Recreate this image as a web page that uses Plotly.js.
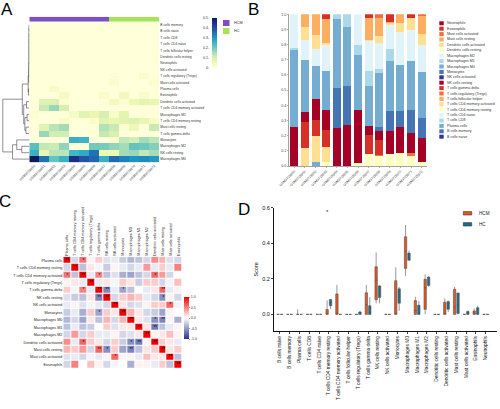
<!DOCTYPE html>
<html><head><meta charset="utf-8">
<script src="https://cdn.plot.ly/plotly-3.0.1.min.js"></script>
<style>html,body{margin:0;padding:0;background:#fff}#chart{width:500px;height:409px}</style>
</head><body><div id="chart"></div>
<script>
// ---------------- DATA ----------------
const samples = ['GSM3729960','GSM3729961','GSM3729962','GSM3729963','GSM3729964','GSM3729965','GSM3729966','GSM3729967','GSM3729968','GSM3729969','GSM3729970','GSM3729971','GSM3729972'];
const sampleGroups = ['HCM','HCM','HCM','HCM','HCM','HCM','HCM','HCM','HC','HC','HC','HC','HC'];
const groupNames = ['HCM','HC'];
const cellTypes = ['B cells naive','B cells memory','Plasma cells','T cells CD8','T cells CD4 naive','T cells CD4 memory resting','T cells CD4 memory activated','T cells follicular helper','T cells regulatory (Tregs)','T cells gamma delta','NK cells resting','NK cells activated','Monocytes','Macrophages M0','Macrophages M1','Macrophages M2','Dendritic cells resting','Dendritic cells activated','Mast cells resting','Mast cells activated','Eosinophils','Neutrophils'];
// fraction of each cell type in each sample (13 samples)
const bCellsNaive        = [0,0,0,0,0,0,0,0,0,0,0,0,0];
const bCellsMemory       = [0,0,0,0,0,0,0,0,0,0,0,0,0];
const plasmaCells        = [0,0,0.029,0,0,0,0,0,0,0,0,0,0];
const tCellsCD8          = [0,0,0,0,0,0,0,0,0,0,0,0,0];
const tCellsCD4Naive     = [0,0,0,0,0,0,0,0,0,0,0,0,0];
const tCellsCD4MemRest   = [0,0,0,0.029,0,0,0.022,0.079,0.068,0.079,0.088,0.068,0.029];
const tCellsCD4MemAct    = [0,0.121,0.166,0.099,0,0,0,0,0,0,0,0,0];
const tCellsFH           = [0,0,0,0,0,0,0,0,0,0,0,0,0];
const tCellsTregs        = [0,0,0,0,0,0,0,0,0.007,0,0,0.02,0];
const tCellsGammaDelta   = [0,0.166,0.11,0.11,0,0,0,0.126,0.097,0,0,0,0];
const nkResting          = [0.26,0.066,0.137,0.133,0.249,0.272,0.349,0.062,0.062,0.155,0.166,0.128,0.154];
const nkActivated        = [0,0,0,0,0,0,0,0,0,0,0,0,0];
const monocytes          = [0,0,0,0,0.265,0.253,0,0,0.02,0.13,0.106,0.155,0.133];
const macrophagesM0      = [0.504,0.349,0.216,0.258,0.453,0.393,0.364,0.263,0.36,0.331,0.309,0.32,0.302];
const macrophagesM1      = [0.011,0,0,0,0.033,0.082,0.066,0.099,0.026,0.077,0,0,0];
const macrophagesM2      = [0.225,0.128,0.115,0.172,0,0,0.199,0.194,0.172,0.155,0.216,0.205,0.183];
const dcResting          = [0,0,0,0,0,0,0,0,0,0,0,0,0];
const dcActivated        = [0,0.088,0.09,0.011,0,0,0,0.007,0.045,0.013,0.06,0.078,0.066];
const mastResting        = [0,0.082,0.137,0.155,0,0,0,0.143,0.121,0.011,0.055,0,0.121];
const mastActivated      = [0,0,0,0,0,0,0,0,0.022,0,0,0,0.011];
const eosinophils        = [0,0,0,0.033,0,0,0,0.026,0,0.049,0,0.026,0];
const neutrophils        = [0,0,0,0,0,0,0,0,0,0,0,0,0];

// Heatmap (A) row order as clustered
const heatmapRows = ['B cells memory','B cells naive','T cells CD8','T cells CD4 naive','T cells follicular helper','Dendritic cells resting','Neutrophils','NK cells activated','T cells regulatory (Tregs)','Mast cells activated','Plasma cells','Eosinophils','Dendritic cells activated','T cells CD4 memory activated','Macrophages M1','T cells CD4 memory resting','Mast cells resting','T cells gamma delta','Monocytes','Macrophages M2','NK cells resting','Macrophages M0'];
// row clustering: [childA, childB, height] (leaves 0..21, merged nodes 22..)
const rowLinkage = [[0,1,0.01],[22,2,0.01],[23,3,0.01],[24,4,0.01],[25,5,0.01],[26,6,0.01],[27,7,0.01],[28,8,0.02],[29,9,0.02],[10,11,0.03],[30,31,0.04],[12,13,0.1],[14,15,0.08],[16,17,0.12],[34,35,0.16],[33,36,0.2],[32,37,0.25],[19,20,0.27],[18,39,0.45],[40,21,0.6],[38,41,0.95]];

// Correlation (C)
const corrLabels = ['Plasma cells','T cells CD4 memory resting','T cells CD4 memory activated','T cells regulatory (Tregs)','T cells gamma delta','NK cells resting','NK cells activated','Monocytes','Macrophages M0','Macrophages M1','Macrophages M2','Dendritic cells activated','Mast cells resting','Mast cells activated','Eosinophils'];
// upper triangle rows (from diagonal to the right)
const corrUpper = [
 [1,-0.2,0.55,0.05,0.2,-0.15,-0.1,-0.25,-0.35,-0.3,-0.2,0.45,0.3,-0.15,-0.2],
 [1,-0.3,0.1,-0.05,-0.25,0.05,-0.1,-0.2,-0.1,0.4,-0.1,0.2,-0.1,0.5],
 [1,-0.1,0.5,-0.3,-0.15,-0.4,-0.45,-0.3,-0.2,0.6,0.4,-0.2,0],
 [1,-0.1,0.1,-0.05,0.2,0.1,-0.25,0.2,0.2,-0.2,-0.05,0.25],
 [1,-0.6,-0.1,-0.45,-0.3,0,-0.1,0.1,0.6,-0.1,0.05],
 [1,-0.2,0.2,0.3,0.2,-0.1,-0.2,-0.55,0.05,-0.2],
 [1,0.1,-0.2,-0.15,0.05,0.2,0.2,0.6,-0.05],
 [1,0.3,0.1,-0.2,-0.25,-0.45,0.05,0],
 [1,0.1,-0.15,-0.55,-0.6,0.05,-0.4],
 [1,0.1,-0.65,-0.3,-0.1,0.05],
 [1,0.05,0.1,0.25,0.05],
 [1,0.2,0.1,-0.1],
 [1,0.1,0.2],
 [1,-0.3],
 [1]
];
const corrSignif = [[0,2,'*'],[2,4,'*'],[2,11,'*'],[4,5,'**'],[4,7,'*'],[4,12,'**'],[5,12,'*'],[6,13,'*'],[8,11,'*'],[8,12,'**'],[9,11,'**']];

// Box plot (D) significance mark
const boxSignif = [['T cells CD4 memory resting','*']];

// ---------------- HELPERS ----------------
const W = 500, H = 409;
const px = x => x / W;
const py = y => 1 - y / H;
const FONT = 'Liberation Sans, Arial, Helvetica, sans-serif';
const rdylbu11 = ['#a50026','#d73027','#f46d43','#fdae61','#fee090','#ffffbf','#e0f3f8','#abd9e9','#74add1','#4575b4','#313695'];
const groupColors = {HCM:'#7c4fc4', HC:'#a6e35b'};
const boxColors = {HCM:'#e2561f', HC:'#1e6c8a'};
const cellFractions = [bCellsNaive,bCellsMemory,plasmaCells,tCellsCD8,tCellsCD4Naive,tCellsCD4MemRest,tCellsCD4MemAct,tCellsFH,tCellsTregs,tCellsGammaDelta,nkResting,nkActivated,monocytes,macrophagesM0,macrophagesM1,macrophagesM2,dcResting,dcActivated,mastResting,mastActivated,eosinophils,neutrophils];
const byName = {};
cellTypes.forEach((c, i) => byName[c] = cellFractions[i]);
const cellColor = k => rdylbu11[(cellTypes.length - 1 - k) % 11];
const idx = n => Array.from({length:n}, (_, i) => i);

const traces = [];
const annotations = [];
const shapes = [];

// ---------------- A: heatmap ----------------
const zA = heatmapRows.map(r => byName[r].slice());
traces.push({
  type:'heatmap', z:zA, x:idx(samples.length), y:idx(heatmapRows.length), xaxis:'x', yaxis:'y',
  zmin:0, zmax:0.5,
  colorscale:[[0,'#ffffd9'],[0.125,'#edf8b1'],[0.25,'#c7e9b4'],[0.375,'#7fcdbb'],[0.5,'#41b6c4'],[0.625,'#1d91c0'],[0.75,'#225ea8'],[0.875,'#253494'],[1,'#081d58']],
  colorbar:{x:px(212), xanchor:'left', xpad:0, ypad:0, y:py(43.3), yanchor:'middle', lenmode:'pixels', len:50, thickness:5, outlinewidth:0, showticklabels:false, ticks:''},
  hoverinfo:'skip'
});
// annotation bar
traces.push({
  type:'heatmap', z:[sampleGroups.map(g => groupNames.indexOf(g))], x:idx(samples.length), y:[0], xaxis:'x2', yaxis:'y2',
  zmin:0, zmax:1, showscale:false,
  colorscale:[[0,groupColors.HCM],[0.5,groupColors.HCM],[0.5,groupColors.HC],[1,groupColors.HC]], hoverinfo:'skip'
});
// dendrogram
(function(){
  const n = heatmapRows.length;
  const ny = idx(n), nh = new Array(n).fill(0);
  const dx = [], dy = [];
  rowLinkage.forEach(([a, b, h]) => {
    dx.push(nh[a], h, h, nh[b], null);
    dy.push(ny[a], ny[a], ny[b], ny[b], null);
    ny.push((ny[a] + ny[b]) / 2); nh.push(h);
  });
  traces.push({type:'scatter', mode:'lines', x:dx, y:dy, xaxis:'x3', yaxis:'y3', line:{color:'#444', width:0.6}, hoverinfo:'skip'});
})();
// A colorbar tick labels (left side)
[0,0.1,0.2,0.3,0.4,0.5].forEach(v => {
  annotations.push({xref:'paper', yref:'paper', x:px(211.5), y:py(68.3 - v / 0.5 * 50), text:(v === 0 ? '0' : v.toFixed(1)) + '-', showarrow:false, xanchor:'right', yanchor:'middle', font:{size:3.6, color:'#333'}});
});
// A group legend
groupNames.forEach((g, i) => {
  const yc = 23 + i * 8;
  shapes.push({type:'rect', xref:'paper', yref:'paper', x0:px(223), x1:px(229.5), y0:py(yc - 3), y1:py(yc + 3), fillcolor:groupColors[g], line:{width:0}});
  annotations.push({xref:'paper', yref:'paper', x:px(232), y:py(yc), text:g, showarrow:false, xanchor:'left', yanchor:'middle', font:{size:3.8, color:'#333'}});
});

// ---------------- B: stacked bars ----------------
cellTypes.forEach((c, k) => {
  traces.push({type:'bar', x:samples, y:byName[c], name:c, xaxis:'x4', yaxis:'y4', marker:{color:cellColor(k), line:{width:0}}, hoverinfo:'skip'});
});
cellTypes.slice().reverse().forEach((c, i) => {
  const k = cellTypes.length - 1 - i;
  const yc = 23.3 + i * 5.4;
  shapes.push({type:'rect', xref:'paper', yref:'paper', x0:px(439.3), x1:px(443.7), y0:py(yc - 2), y1:py(yc + 2), fillcolor:cellColor(k), line:{width:0}});
  annotations.push({xref:'paper', yref:'paper', x:px(445), y:py(yc), text:c, showarrow:false, xanchor:'left', yanchor:'middle', font:{size:3.6, color:'#333'}});
});

// ---------------- C: correlation heatmap ----------------
const nC = corrLabels.length;
const zC = idx(nC).map(() => new Array(nC).fill(0));
corrUpper.forEach((row, i) => row.forEach((v, j) => { zC[i][i + j] = v; zC[i + j][i] = v; }));
const tC = idx(nC).map(i => idx(nC).map(j => i === j ? '**' : ''));
corrSignif.forEach(([i, j, s]) => { tC[i][j] = s; tC[j][i] = s; });
traces.push({
  type:'heatmap', z:zC, x:idx(nC), y:idx(nC), xaxis:'x5', yaxis:'y5', zmin:-1, zmax:1, xgap:1, ygap:1,
  text:tC, texttemplate:'%{text}', textfont:{size:4.5, color:'#000'},
  colorscale:[[0,'#27358f'],[0.5,'#ffffff'],[1,'#f00000']],
  colorbar:{x:px(184.3), xanchor:'left', xpad:0, ypad:0, y:py(318), yanchor:'middle', lenmode:'pixels', len:42, thickness:5, outlinewidth:0,
    tickvals:[-1,-0.5,0,0.5,1], ticktext:['-1.0','-0.5','0.0','0.5','1.0'], ticks:'outside', ticklen:1.5, tickwidth:0.5, tickfont:{size:3.6, color:'#333'}},
  hoverinfo:'skip'
});

// ---------------- D: box plots ----------------
function quantileExc(s, p) {
  const n = s.length, pos = p * (n + 1);
  if (pos <= 1) return s[0];
  if (pos >= n) return s[n - 1];
  const lo = Math.floor(pos), f = pos - lo;
  return s[lo - 1] + f * (s[lo] - s[lo - 1]);
}
groupNames.forEach(g => {
  const cols = idx(samples.length).filter(i => sampleGroups[i] === g);
  const stats = cellTypes.map(c => {
    const s = cols.map(i => byName[c][i]).sort((a, b) => a - b);
    return {min:s[0], q1:quantileExc(s, 0.25), med:quantileExc(s, 0.5), q3:quantileExc(s, 0.75), max:s[s.length - 1]};
  });
  traces.push({
    type:'box', name:g, x:cellTypes, xaxis:'x6', yaxis:'y6',
    q1:stats.map(s => s.q1), median:stats.map(s => s.med), q3:stats.map(s => s.q3),
    lowerfence:stats.map(s => s.min), upperfence:stats.map(s => s.max),
    boxpoints:false, whiskerwidth:0, fillcolor:boxColors[g], line:{color:'#555', width:0.6}, hoverinfo:'skip'
  });
});
boxSignif.forEach(([c, s]) => {
  annotations.push({xref:'x6', yref:'y6', x:c, y:0.575, text:s, showarrow:false, xshift:-1.5, font:{size:6, color:'#222'}});
});
groupNames.forEach((g, i) => {
  const yc = 213.3 + i * 11;
  shapes.push({type:'rect', xref:'paper', yref:'paper', x0:px(463.3), x1:px(471.7), y0:py(yc - 1.7), y1:py(yc + 1.7), fillcolor:boxColors[g], line:{color:'#333', width:0.6}});
  annotations.push({xref:'paper', yref:'paper', x:px(476.5), y:py(yc), text:g, showarrow:false, xanchor:'left', yanchor:'middle', font:{size:4.6, color:'#222'}});
});

// ---------------- panel letters ----------------
[['A',6.5,9.5],['B',253,9.5],['C',4.5,201.5],['D',243.5,209]].forEach(([t, x, y]) => {
  annotations.push({xref:'paper', yref:'paper', x:px(x), y:py(y), text:t, showarrow:false, xanchor:'center', yanchor:'middle', font:{size:17, color:'#000', family:FONT}});
});

// ---------------- layout ----------------
const hidden = {visible:false, showgrid:false, zeroline:false, fixedrange:true};
const layout = {
  width:W, height:H, margin:{l:0, r:0, t:0, b:0, pad:0}, paper_bgcolor:'#fff', plot_bgcolor:'rgba(0,0,0,0)',
  showlegend:false, font:{family:FONT, size:4, color:'#333'},
  barmode:'stack', bargap:0.25, boxmode:'group', boxgap:0.3, boxgroupgap:0.3,
  xaxis:{domain:[px(29.3), px(159.3)], range:[-0.5, 12.5], tickvals:idx(samples.length), ticktext:samples, tickangle:-45, tickfont:{size:3.4, color:'#444'}, ticks:'', showgrid:false, zeroline:false, showline:false, anchor:'y'},
  yaxis:{domain:[py(162.3), py(21.7)], range:[21.5, -0.5], side:'right', tickvals:idx(heatmapRows.length), ticktext:heatmapRows, tickfont:{size:3.3, color:'#333'}, ticks:'', showgrid:false, zeroline:false, anchor:'x'},
  xaxis2:Object.assign({domain:[px(29.3), px(159.3)], range:[-0.5, 12.5], anchor:'y2'}, hidden),
  yaxis2:Object.assign({domain:[py(21.7), py(16.7)], range:[-0.5, 0.5], anchor:'x2'}, hidden),
  xaxis3:Object.assign({domain:[0, px(29.3)], range:[1.05, 0], anchor:'y3'}, hidden),
  yaxis3:Object.assign({domain:[py(162.3), py(21.7)], range:[21.5, -0.5], anchor:'x3'}, hidden),
  xaxis4:{domain:[px(289), px(427)], type:'category', range:[-0.5, 12.5], tickangle:-45, tickfont:{size:3.4, color:'#444'}, showline:true, linecolor:'#666', linewidth:0.6, ticks:'outside', ticklen:1.5, tickwidth:0.5, tickcolor:'#666', showgrid:false, zeroline:false, anchor:'y4'},
  yaxis4:{domain:[py(166), py(14.3)], range:[0, 1.0001], dtick:0.1, tickformat:'.1f', tickfont:{size:3.6, color:'#444'}, showline:true, linecolor:'#666', linewidth:0.6, ticks:'outside', ticklen:1.5, tickwidth:0.5, tickcolor:'#666', showgrid:false, zeroline:false, anchor:'x4'},
  xaxis5:{domain:[px(63.3), px(182.7)], range:[-0.5, nC - 0.5], side:'top', tickvals:idx(nC), ticktext:corrLabels, tickangle:-90, tickfont:{size:3.7, color:'#222'}, ticks:'', showgrid:false, zeroline:false, anchor:'y5'},
  yaxis5:{domain:[py(368.3), py(256.7)], range:[nC - 0.5, -0.5], tickvals:idx(nC), ticktext:corrLabels, tickfont:{size:3.7, color:'#222'}, ticks:'', showgrid:false, zeroline:false, anchor:'x5'},
  xaxis6:{domain:[px(274.4), px(497)], type:'category', range:[-0.55, 22.15], tickangle:-90, tickfont:{size:4.8, color:'#111'}, showline:true, linecolor:'#111', linewidth:1, ticks:'outside', ticklen:2.5, tickwidth:0.8, tickcolor:'#111', showgrid:false, zeroline:false, anchor:'y6'},
  yaxis6:{domain:[py(330.7), py(207.8)], range:[-0.092, 0.601], dtick:0.2, tickformat:'.1f', tickfont:{size:5.5, color:'#111'}, showline:true, linecolor:'#111', linewidth:1, ticks:'outside', ticklen:2.5, tickwidth:0.8, tickcolor:'#111', showgrid:false, zeroline:false, anchor:'x6',
    title:{text:'Score', font:{size:5.5, color:'#111'}, standoff:3}},
  annotations:annotations, shapes:shapes
};
Plotly.newPlot('chart', traces, layout, {staticPlot:true, displayModeBar:false});
</script></body></html>
